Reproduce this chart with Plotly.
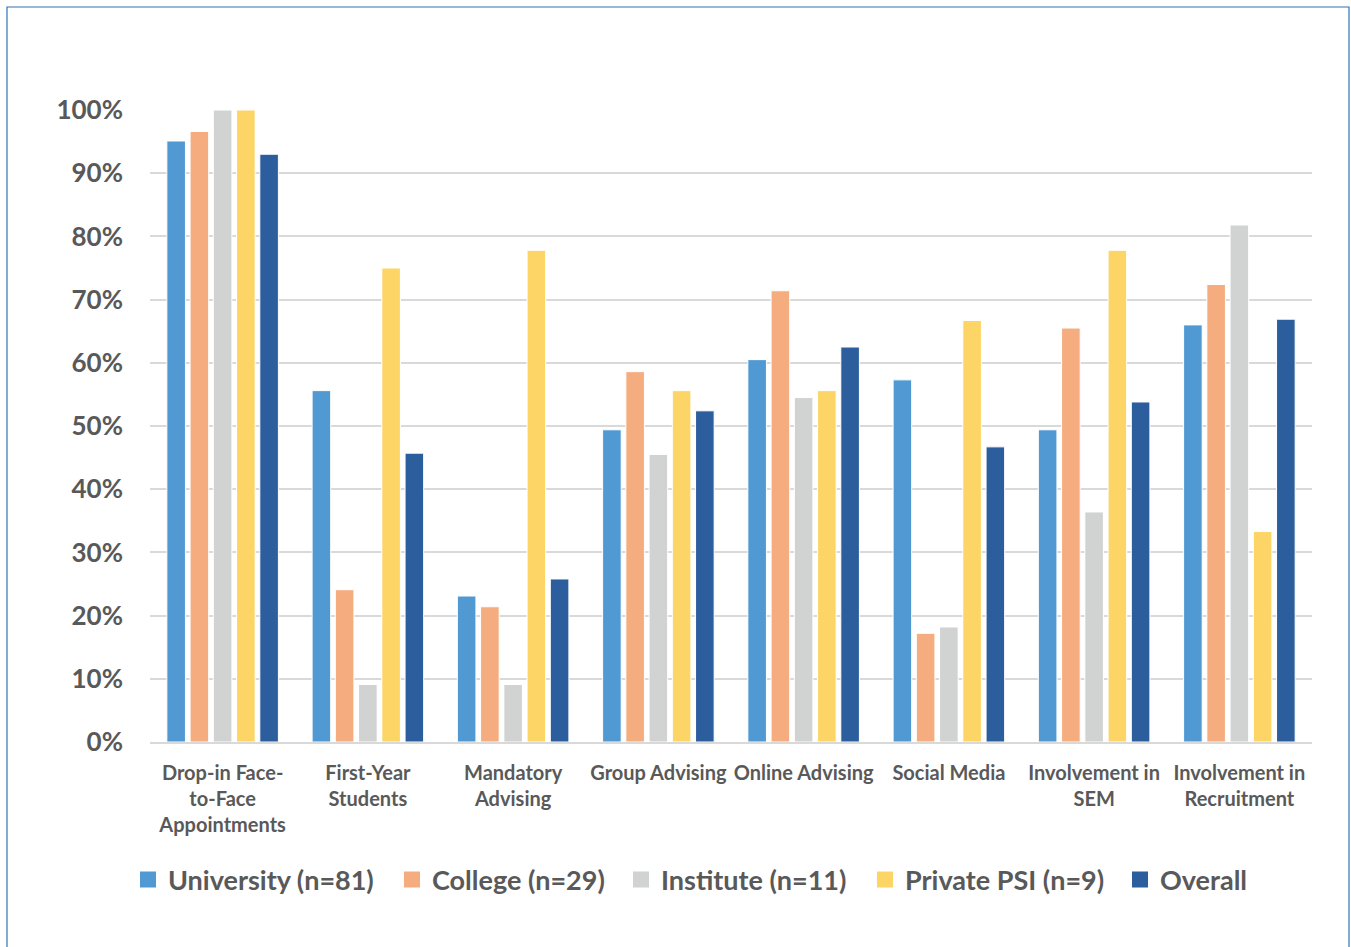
import plotly.graph_objects as go

categories = [
    "Drop-in Face-<br>to-Face<br>Appointments",
    "First-Year<br>Students",
    "Mandatory<br>Advising",
    "Group Advising",
    "Online Advising",
    "Social Media",
    "Involvement in<br>SEM",
    "Involvement in<br>Recruitment",
]

university = [95.1, 55.6, 23.1, 49.4, 60.5, 57.3, 49.4, 66.0]
college = [96.6, 24.1, 21.4, 58.6, 71.4, 17.2, 65.5, 72.4]
institute = [100.0, 9.1, 9.1, 45.5, 54.5, 18.2, 36.4, 81.8]
private_psi = [100.0, 75.0, 77.8, 55.6, 55.6, 66.7, 77.8, 33.3]
overall = [93.0, 45.7, 25.8, 52.4, 62.5, 46.7, 53.8, 66.9]

series = [
    ("University (n=81)", university, "#5199d3"),
    ("College (n=29)", college, "#f5ad7f"),
    ("Institute (n=11)", institute, "#d1d2d2"),
    ("Private PSI (n=9)", private_psi, "#fdd567"),
    ("Overall", overall, "#2c5e9e"),
]

y_ticks = list(range(0, 101, 10))
y_tick_text = [f"{v}%" for v in y_ticks]

# left edge (px) of each legend entry's text along the bottom row
legend_text_px = [168, 432, 661, 905, 1160]

PLOT_L, PLOT_R, PLOT_T, PLOT_B = 150, 1312, 110, 742
W, H = 1351, 947
plot_w = PLOT_R - PLOT_L
plot_h = PLOT_B - PLOT_T

text_color = "#595959"

fig = go.Figure()
legends = {}
for i, (name, vals, color) in enumerate(series):
    fig.add_trace(go.Bar(
        x=categories, y=vals, name=name, showlegend=False,
        marker=dict(color=color, line=dict(color="white", width=1)),
    ))
    key = "legend" if i == 0 else f"legend{i + 1}"
    # legend-only square swatch for this series
    fig.add_trace(go.Scatter(
        x=[categories[0]], y=[None], mode="markers", name=name,
        marker=dict(symbol="square", size=16, color=color),
        legend=key, hoverinfo="skip",
    ))
    legends[key] = dict(
        x=(legend_text_px[i] - 40 - PLOT_L) / plot_w, xanchor="left",
        y=(PLOT_B - 880) / plot_h, yanchor="middle",
        orientation="h", bgcolor="rgba(0,0,0,0)",
        font=dict(size=27, family="Lato", weight="bold", color=text_color),
        itemwidth=30,
    )

fig.update_layout(
    width=W, height=H,
    paper_bgcolor="white", plot_bgcolor="white",
    margin=dict(l=PLOT_L, r=W - PLOT_R, t=PLOT_T, b=H - PLOT_B),
    barmode="group", bargap=0.2, bargroupgap=0.2,
    font=dict(family="Lato", color=text_color),
    xaxis=dict(
        tickfont=dict(size=20, family="Lato", weight="bold", color=text_color),
        showline=True, linecolor="#d9d9d9", linewidth=1.5,
        ticks="", ticklabelstandoff=12,
    ),
    yaxis=dict(
        range=[0, 100], tickmode="array", tickvals=y_ticks, ticktext=y_tick_text,
        tickfont=dict(size=26, family="Lato", weight="bold", color=text_color),
        gridcolor="#d9d9d9", gridwidth=1.5,
        zeroline=False, showline=False, ticks="",
        ticklabelstandoff=26,
    ),
    shapes=[dict(
        type="rect", xref="paper", yref="paper",
        x0=(7 - PLOT_L) / plot_w, x1=(1349 - PLOT_L) / plot_w,
        y0=(PLOT_B - 960) / plot_h, y1=(PLOT_B - 7) / plot_h,
        line=dict(color="#2e75b6", width=1.2), layer="below",
    )],
    **legends,
)

fig.write_html("out.html")
